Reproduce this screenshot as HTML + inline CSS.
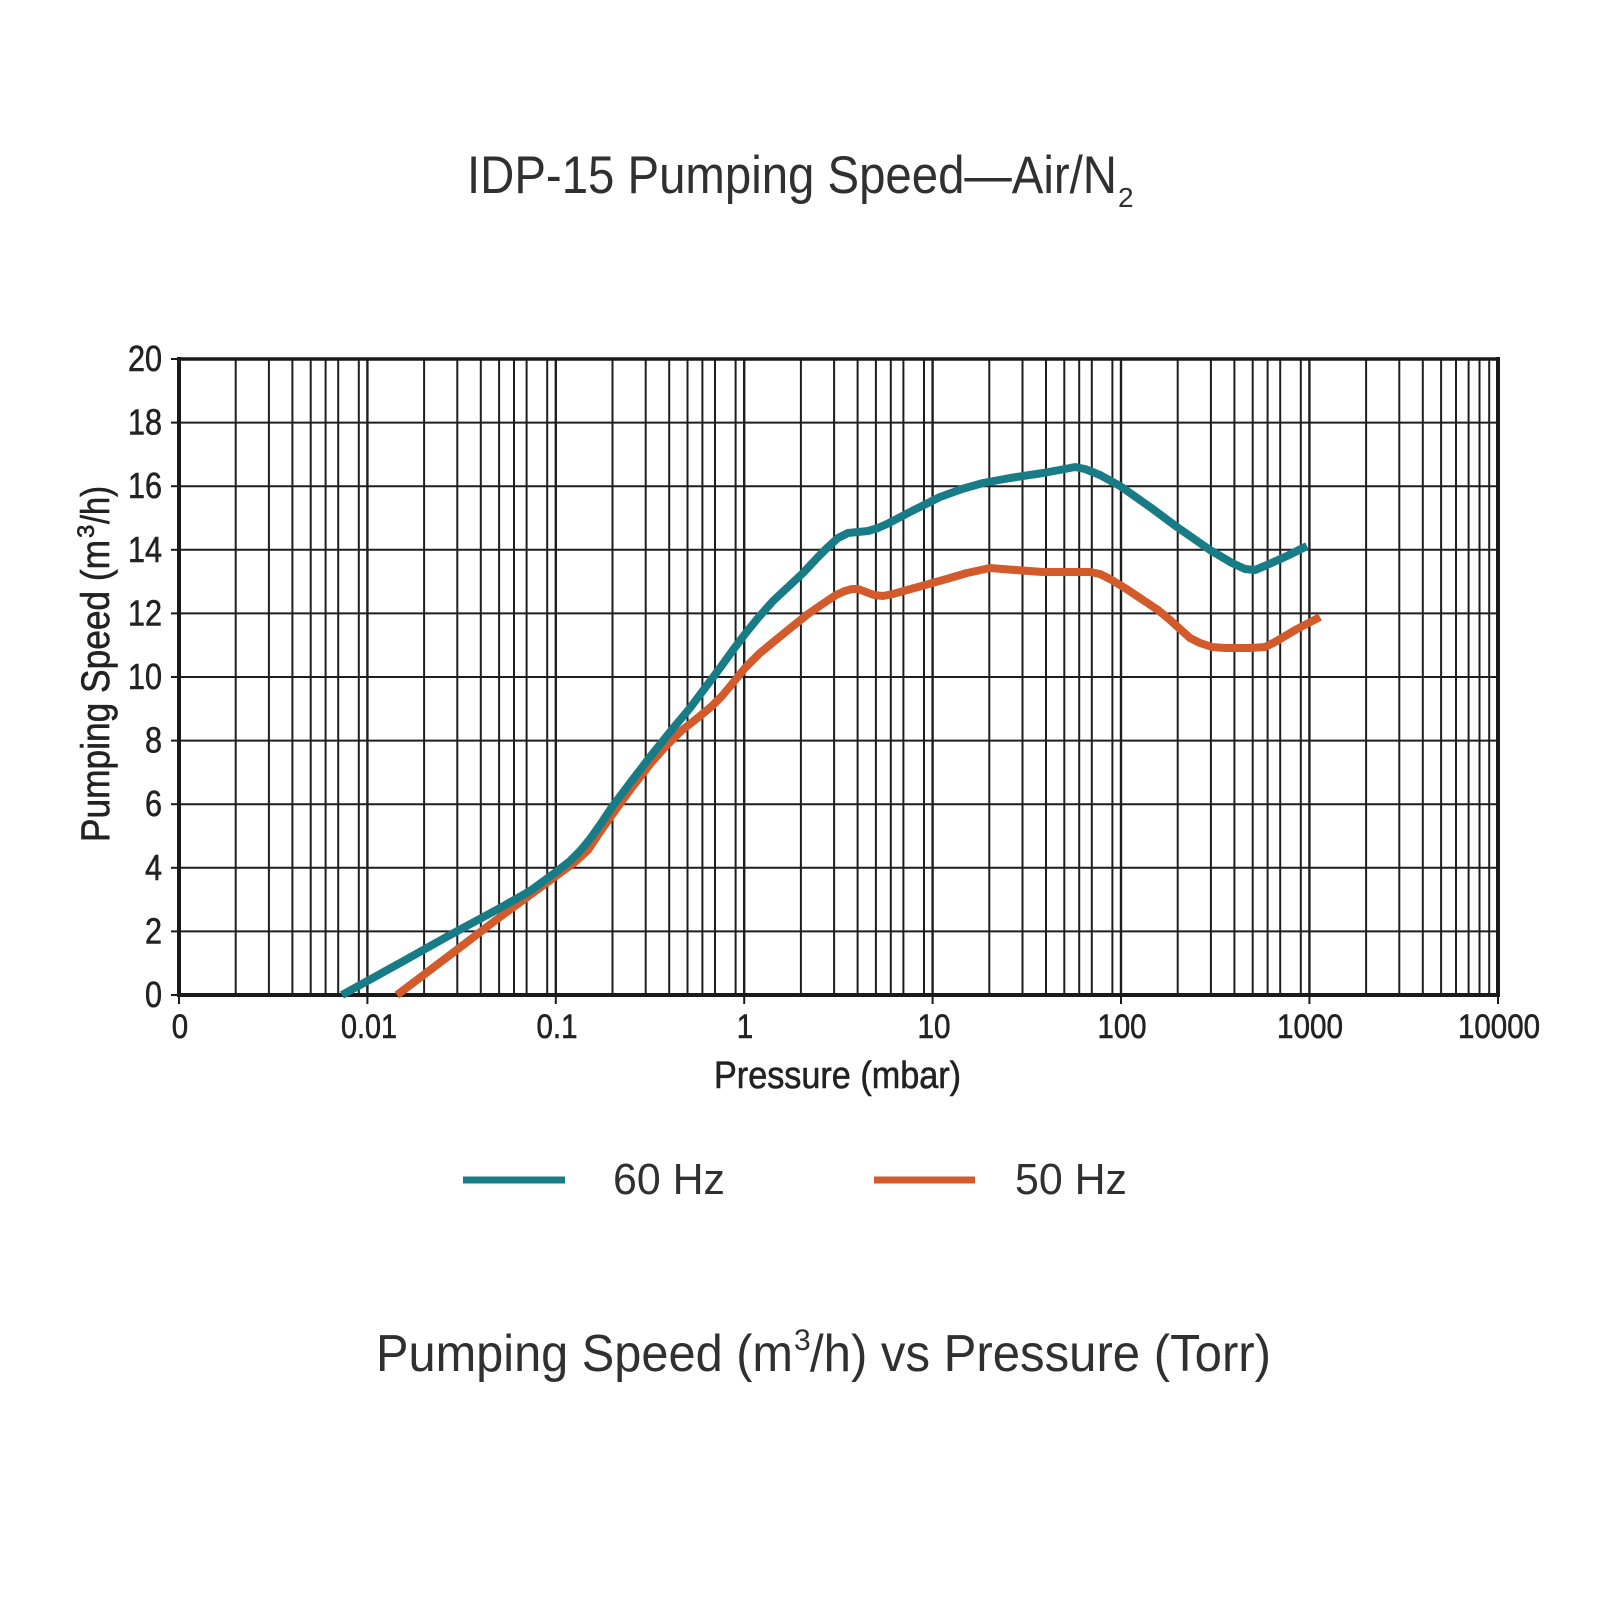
<!DOCTYPE html>
<html>
<head>
<meta charset="utf-8">
<style>
  html,body{margin:0;padding:0;background:#ffffff;}
  svg{display:block;}
  text{font-family:"Liberation Sans", sans-serif;}
</style>
</head>
<body>
<svg width="1600" height="1600" viewBox="0 0 1600 1600" xmlns="http://www.w3.org/2000/svg">
  <rect x="0" y="0" width="1600" height="1600" fill="#ffffff"/>

  <!-- Title -->
  <text x="467" y="193" font-size="53" fill="#303030" textLength="650" lengthAdjust="spacingAndGlyphs">IDP-15 Pumping Speed—Air/N</text>
  <text x="1118" y="207" font-size="28" fill="#303030">2</text>

  <!-- Horizontal grid -->
  <g stroke="#1e1e1e" stroke-width="2">
    <line x1="179" y1="931.4" x2="1498" y2="931.4"/>
    <line x1="179" y1="867.8" x2="1498" y2="867.8"/>
    <line x1="179" y1="804.2" x2="1498" y2="804.2"/>
    <line x1="179" y1="740.6" x2="1498" y2="740.6"/>
    <line x1="179" y1="677" x2="1498" y2="677"/>
    <line x1="179" y1="613.4" x2="1498" y2="613.4"/>
    <line x1="179" y1="549.8" x2="1498" y2="549.8"/>
    <line x1="179" y1="486.2" x2="1498" y2="486.2"/>
    <line x1="179" y1="422.6" x2="1498" y2="422.6"/>
  </g>

  <!-- Vertical grid -->
  <g stroke="#1e1e1e" stroke-width="2">
    <line x1="235.7" y1="359" x2="235.7" y2="995"/>
    <line x1="268.9" y1="359" x2="268.9" y2="995"/>
    <line x1="292.4" y1="359" x2="292.4" y2="995"/>
    <line x1="310.7" y1="359" x2="310.7" y2="995"/>
    <line x1="325.6" y1="359" x2="325.6" y2="995"/>
    <line x1="338.2" y1="359" x2="338.2" y2="995"/>
    <line x1="358.8" y1="359" x2="358.8" y2="995"/>
    <line x1="367.4" y1="359" x2="367.4" y2="995" stroke-width="2.4"/>
    <line x1="424.1" y1="359" x2="424.1" y2="995"/>
    <line x1="457.3" y1="359" x2="457.3" y2="995"/>
    <line x1="480.8" y1="359" x2="480.8" y2="995"/>
    <line x1="499.1" y1="359" x2="499.1" y2="995"/>
    <line x1="514.0" y1="359" x2="514.0" y2="995"/>
    <line x1="526.6" y1="359" x2="526.6" y2="995"/>
    <line x1="547.2" y1="359" x2="547.2" y2="995"/>
    <line x1="555.8" y1="359" x2="555.8" y2="995" stroke-width="2.4"/>
    <line x1="612.5" y1="359" x2="612.5" y2="995"/>
    <line x1="645.7" y1="359" x2="645.7" y2="995"/>
    <line x1="669.2" y1="359" x2="669.2" y2="995"/>
    <line x1="687.5" y1="359" x2="687.5" y2="995"/>
    <line x1="702.4" y1="359" x2="702.4" y2="995"/>
    <line x1="715.0" y1="359" x2="715.0" y2="995"/>
    <line x1="735.6" y1="359" x2="735.6" y2="995"/>
    <line x1="744.2" y1="359" x2="744.2" y2="995" stroke-width="2.4"/>
    <line x1="800.9" y1="359" x2="800.9" y2="995"/>
    <line x1="834.1" y1="359" x2="834.1" y2="995"/>
    <line x1="857.6" y1="359" x2="857.6" y2="995"/>
    <line x1="875.9" y1="359" x2="875.9" y2="995"/>
    <line x1="890.8" y1="359" x2="890.8" y2="995"/>
    <line x1="903.4" y1="359" x2="903.4" y2="995"/>
    <line x1="924.0" y1="359" x2="924.0" y2="995"/>
    <line x1="932.6" y1="359" x2="932.6" y2="995" stroke-width="2.4"/>
    <line x1="989.3" y1="359" x2="989.3" y2="995"/>
    <line x1="1022.5" y1="359" x2="1022.5" y2="995"/>
    <line x1="1046.0" y1="359" x2="1046.0" y2="995"/>
    <line x1="1064.3" y1="359" x2="1064.3" y2="995"/>
    <line x1="1079.2" y1="359" x2="1079.2" y2="995"/>
    <line x1="1091.8" y1="359" x2="1091.8" y2="995"/>
    <line x1="1112.4" y1="359" x2="1112.4" y2="995"/>
    <line x1="1121.0" y1="359" x2="1121.0" y2="995" stroke-width="2.4"/>
    <line x1="1177.7" y1="359" x2="1177.7" y2="995"/>
    <line x1="1210.9" y1="359" x2="1210.9" y2="995"/>
    <line x1="1234.4" y1="359" x2="1234.4" y2="995"/>
    <line x1="1252.7" y1="359" x2="1252.7" y2="995"/>
    <line x1="1267.6" y1="359" x2="1267.6" y2="995"/>
    <line x1="1280.2" y1="359" x2="1280.2" y2="995"/>
    <line x1="1300.8" y1="359" x2="1300.8" y2="995"/>
    <line x1="1309.4" y1="359" x2="1309.4" y2="995" stroke-width="2.4"/>
    <line x1="1366.1" y1="359" x2="1366.1" y2="995"/>
    <line x1="1399.3" y1="359" x2="1399.3" y2="995"/>
    <line x1="1422.8" y1="359" x2="1422.8" y2="995"/>
    <line x1="1441.1" y1="359" x2="1441.1" y2="995"/>
    <line x1="1456.0" y1="359" x2="1456.0" y2="995"/>
    <line x1="1468.6" y1="359" x2="1468.6" y2="995"/>
    <line x1="1479.5" y1="359" x2="1479.5" y2="995"/>
    <line x1="1489.2" y1="359" x2="1489.2" y2="995"/>
  </g>

  <!-- Frame -->
  <line x1="177" y1="359" x2="1500" y2="359" stroke="#1a1a1a" stroke-width="3.5"/>
  <line x1="177" y1="995" x2="1500" y2="995" stroke="#1a1a1a" stroke-width="4"/>
  <line x1="179" y1="357" x2="179" y2="997" stroke="#1a1a1a" stroke-width="4"/>
  <line x1="1498" y1="357" x2="1498" y2="997" stroke="#1a1a1a" stroke-width="4"/>

  <!-- Ticks -->
  <g stroke="#1a1a1a" stroke-width="2">
    <line x1="179" y1="995" x2="179" y2="1004"/>
    <line x1="367.4" y1="995" x2="367.4" y2="1004"/>
    <line x1="555.8" y1="995" x2="555.8" y2="1004"/>
    <line x1="744.2" y1="995" x2="744.2" y2="1004"/>
    <line x1="932.6" y1="995" x2="932.6" y2="1004"/>
    <line x1="1121" y1="995" x2="1121" y2="1004"/>
    <line x1="1309.4" y1="995" x2="1309.4" y2="1004"/>
    <line x1="1498" y1="995" x2="1498" y2="1004"/>

    <line x1="171" y1="995" x2="179" y2="995"/>
    <line x1="171" y1="931.4" x2="179" y2="931.4"/>
    <line x1="171" y1="867.8" x2="179" y2="867.8"/>
    <line x1="171" y1="804.2" x2="179" y2="804.2"/>
    <line x1="171" y1="740.6" x2="179" y2="740.6"/>
    <line x1="171" y1="677" x2="179" y2="677"/>
    <line x1="171" y1="613.4" x2="179" y2="613.4"/>
    <line x1="171" y1="549.8" x2="179" y2="549.8"/>
    <line x1="171" y1="486.2" x2="179" y2="486.2"/>
    <line x1="171" y1="422.6" x2="179" y2="422.6"/>
    <line x1="171" y1="359" x2="179" y2="359"/>
  </g>

  <!-- Y tick labels -->
  <g font-size="36" fill="#222" stroke="#222" stroke-width="0.6" text-anchor="end">
    <text x="162" y="1007" textLength="17" lengthAdjust="spacingAndGlyphs">0</text>
    <text x="162" y="943.4" textLength="17" lengthAdjust="spacingAndGlyphs">2</text>
    <text x="162" y="879.8" textLength="17" lengthAdjust="spacingAndGlyphs">4</text>
    <text x="162" y="816.2" textLength="17" lengthAdjust="spacingAndGlyphs">6</text>
    <text x="162" y="752.6" textLength="17" lengthAdjust="spacingAndGlyphs">8</text>
    <text x="162" y="689" textLength="34" lengthAdjust="spacingAndGlyphs">10</text>
    <text x="162" y="625.4" textLength="34" lengthAdjust="spacingAndGlyphs">12</text>
    <text x="162" y="561.8" textLength="34" lengthAdjust="spacingAndGlyphs">14</text>
    <text x="162" y="498.2" textLength="34" lengthAdjust="spacingAndGlyphs">16</text>
    <text x="162" y="434.6" textLength="34" lengthAdjust="spacingAndGlyphs">18</text>
    <text x="162" y="371" textLength="34" lengthAdjust="spacingAndGlyphs">20</text>
  </g>

  <!-- X tick labels -->
  <g font-size="34" fill="#222" stroke="#222" stroke-width="0.6" text-anchor="middle">
    <text x="180" y="1038" textLength="16.4" lengthAdjust="spacingAndGlyphs">0</text>
    <text x="369" y="1038" textLength="56" lengthAdjust="spacingAndGlyphs">0.01</text>
    <text x="557" y="1038" textLength="41" lengthAdjust="spacingAndGlyphs">0.1</text>
    <text x="745" y="1038" textLength="16.4" lengthAdjust="spacingAndGlyphs">1</text>
    <text x="934" y="1038" textLength="33" lengthAdjust="spacingAndGlyphs">10</text>
    <text x="1122" y="1038" textLength="49" lengthAdjust="spacingAndGlyphs">100</text>
    <text x="1310" y="1038" textLength="66" lengthAdjust="spacingAndGlyphs">1000</text>
    <text x="1499" y="1038" textLength="82" lengthAdjust="spacingAndGlyphs">10000</text>
  </g>

  <!-- X axis title -->
  <text x="714" y="1088" font-size="38" fill="#222" stroke="#222" stroke-width="0.6" textLength="247" lengthAdjust="spacingAndGlyphs">Pressure (mbar)</text>

  <!-- Y axis title -->
  <g transform="translate(109,842) rotate(-90)" fill="#222" stroke="#222" stroke-width="0.6">
    <text x="0" y="0" font-size="40" textLength="302" lengthAdjust="spacingAndGlyphs">Pumping Speed (m</text>
    <text x="304" y="-15" font-size="24">3</text>
    <text x="318" y="0" font-size="40" textLength="38" lengthAdjust="spacingAndGlyphs">/h)</text>
  </g>

  <!-- 50 Hz curve -->
  <polyline fill="none" stroke="#d35a2b" stroke-width="8" stroke-linejoin="round" stroke-linecap="butt"
    points="397,995 450,955 500,917 530,895 556,876 575,862 588,850 598,835 612,815 630,790 651,763 667,745 681,731 700,716 712,706 722,696 732,684 745,668 760,653 777,639 793,626 808,614 824,603 836,595 845,591 852,589 858,589 866,592 874,595 883,596 893,594 918,587 943,580 967,573 990,568 1015,570 1043,572 1070,572 1090,572 1100,574 1110,579 1125,588 1140,598 1158,610 1170,620 1180,629 1190,638 1200,643 1212,647 1225,648 1250,648 1265,647 1275,642 1297,629 1320,617"/>

  <!-- 60 Hz curve -->
  <polyline fill="none" stroke="#187c87" stroke-width="8" stroke-linejoin="round" stroke-linecap="butt"
    points="342,995 400,963 450,935 500,908 530,891 556,872 570,861 580,851 590,839 600,825 612,807 630,783 650,757 670,732 690,708 705,688 720,668 733,650 745,634 758,618 773,601 788,587 803,573 818,557 828,547 838,538 848,533 858,532 868,531 878,528 887,524 910,512 940,497 962,489 983,483 1010,478 1043,473 1065,469 1075,467 1085,469 1100,475 1120,486 1150,507 1177,527 1210,550 1232,563 1245,569 1255,570 1267,565 1287,556 1307,546"/>

  <!-- Legend -->
  <rect x="463" y="1176.5" width="102" height="7" fill="#187c87"/>
  <text x="613" y="1194" font-size="44" fill="#303030" textLength="112" lengthAdjust="spacingAndGlyphs">60 Hz</text>
  <rect x="874" y="1176.5" width="101" height="7" fill="#d35a2b"/>
  <text x="1015" y="1194" font-size="44" fill="#303030" textLength="112" lengthAdjust="spacingAndGlyphs">50 Hz</text>

  <!-- Bottom caption -->
  <text x="376" y="1371" font-size="52" fill="#303030" textLength="417" lengthAdjust="spacingAndGlyphs">Pumping Speed (m</text>
  <text x="794" y="1350" font-size="30" fill="#303030">3</text>
  <text x="810" y="1371" font-size="52" fill="#303030" textLength="461" lengthAdjust="spacingAndGlyphs">/h) vs Pressure (Torr)</text>
</svg>
</body>
</html>
